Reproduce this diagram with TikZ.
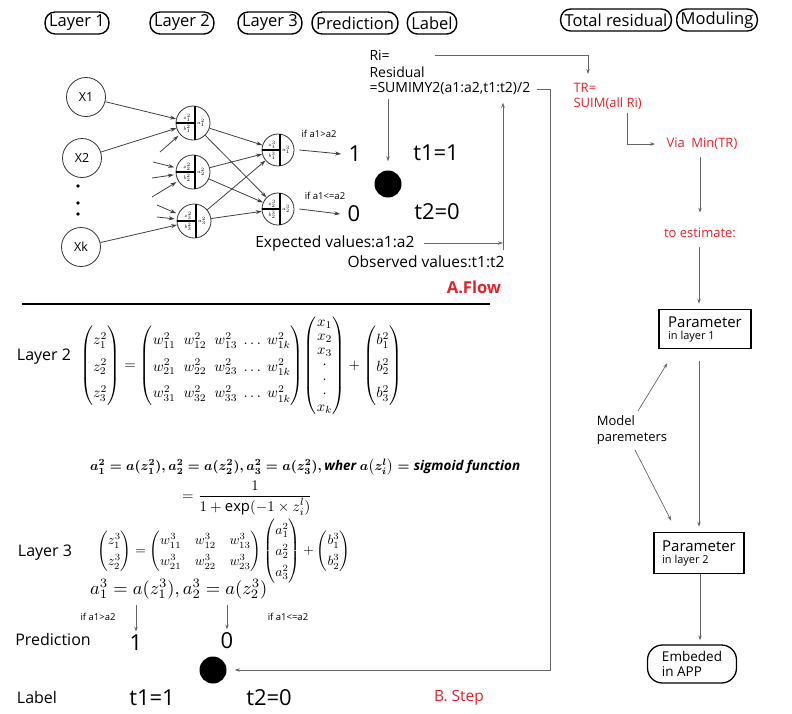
\documentclass[tikz,border=0pt]{standalone}
\usepackage{amsmath}
\usepackage{graphicx}
\usepackage{fontspec}
\setmainfont{Open Sans}
\usetikzlibrary{arrows.meta,positioning,calc}
\definecolor{flowred}{RGB}{226,34,44}

\begin{document}
\begin{tikzpicture}[
  x=1pt, y=-1pt,
  hdr/.style={draw, line width=1.4pt, rounded corners=10pt,
              font=\fontsize{16.5}{18}\selectfont,
              minimum height=22pt, inner xsep=4pt, inner ysep=1pt},
  inp/.style={circle, draw=black!80, line width=0.8pt, minimum size=39pt,
              inner sep=0pt, font=\fontsize{12.5}{14}\selectfont},
  neu/.style={circle, draw=black!80, line width=0.8pt, minimum size=34pt, inner sep=0pt},
  tiny/.style={font=\fontsize{5}{5}\selectfont, inner sep=0pt},
  arr/.style={-{Stealth[length=6pt,width=4pt]}, black!75, line width=0.8pt},
  farr/.style={-{Stealth[length=5pt,width=3.5pt]}, black!60, line width=0.7pt},
  big/.style={font=\fontsize{22}{24}\selectfont},
  txt/.style={font=\fontsize{15.5}{17}\selectfont},
  lbl/.style={font=\fontsize{16}{18}\selectfont},
  sml/.style={font=\fontsize{14}{16}\selectfont, align=left},
  cond/.style={font=\fontsize{9.5}{10}\selectfont},
  redt/.style={text=flowred, font=\fontsize{13}{14.5}\selectfont, align=left},
  blob/.style={circle, fill=black, minimum size=27pt, inner sep=0pt},
  parbox/.style={draw, line width=1.6pt, align=left, inner sep=3pt,
                 minimum width=92pt, minimum height=39pt},
  eqn/.style={anchor=west, inner sep=0pt},
]
\useasboundingbox (0,0) rectangle (792,713);

% Column headers
\node[hdr] (h1) at (77,23)  {Layer 1};
\node[hdr] (h2) at (182,23) {Layer 2};
\node[hdr] (h3) at (270,23) {Layer 3};
\node[hdr] (h4) at (355,23) {Prediction};
\node[hdr] (h5) at (432,23) {Label};
\node[hdr] (h6) at (616,20) {Total residual};
\node[hdr] (h7) at (717,20) {Moduling};

% Input layer
\node[inp] (x1) at (86,97)  {X1};
\node[inp] (x2) at (82,158) {X2};
\node[inp] (xk) at (81,247) {Xk};
\foreach \y in {186,203,214} \fill (78,\y) circle (1.8pt);

% Layer 2 and layer 3 neurons
\node[neu] (n1) at (193,123) {};
\node[neu] (n2) at (193,172) {};
\node[neu] (n3) at (194,221) {};
\node[neu, minimum size=32pt] (m1) at (278,150) {};
\node[neu, minimum size=32pt] (m2) at (278,209) {};
\foreach \n/\j/\l in {n1/1/2, n2/2/2, n3/3/2, m1/1/3, m2/2/3} {
  \draw[line width=1.1pt] ([xshift=2pt]\n.north) -- ([xshift=2pt]\n.south);
  \draw[line width=1.1pt] (\n.west) -- ([xshift=2pt]\n.center);
  \node[tiny] at ([shift={(-6pt,5pt)}]\n.center)  {$z^{\l}_{\j}$};
  \node[tiny] at ([shift={(-6pt,-6pt)}]\n.center) {$b^{\l}_{\j}$};
  \node[tiny] at ([shift={(8pt,0pt)}]\n.center)   {$a^{\l}_{\j}$};
}

% Network arrows
\draw[arr] (x1) -- (n1);
\draw[arr] (x2) -- (n1);
\draw[arr] (xk) -- (n3);
\coordinate (s1) at (160,152);
\coordinate (s2) at (153,162);
\coordinate (s3) at (152,178);
\coordinate (s4) at (152,197);
\coordinate (s5) at (157,205);
\coordinate (s6) at (157,217);
\foreach \s/\t in {s1/n1, s2/n2, s3/n2, s4/n2, s5/n3, s6/n3}
  \draw[arr, shorten >=2pt] (\s) -- (\t);
\foreach \a in {n1,n2,n3}
  \foreach \b in {m1,m2}
    \draw[arr] (\a) -- (\b);

% Prediction and label
\node[big] (o1) at (355,154) {1};
\node[big] (o0) at (354,214) {0};
\node[cond] at (319,134) {if a1>a2};
\node[cond] at (325,196) {if a1<=a2};
\draw[arr] ([xshift=5pt]m1.east) -- ([xshift=-4pt]o1.west);
\draw[arr] ([xshift=5pt]m2.east) -- ([xshift=-4pt]o0.west);
\node[blob] (dot1) at (388,184) {};
\node[big] (t1) at (436,153) {t1=1};
\node[big] (t2) at (437,212) {t2=0};

% Residual
\node[sml, anchor=west] (ri)  at (366,55) {Ri=};
\node[sml, anchor=west] (res) at (366,72) {Residual};
\node[sml, anchor=west] (sum) at (366,89) {=SUMIMY2(a1:a2,t1:t2)/2};
\draw[farr] (sum.south -| dot1) -- ([yshift=9pt]dot1.north);

\node[txt, anchor=east] (exp) at (418,243) {Expected values:a1:a2};
\node[txt, anchor=east] (obs) at (508,262) {Observed values:t1:t2};
\node[text=flowred, font=\fontsize{16.5}{18}\selectfont\bfseries] (fa) at (474,287) {A.Flow};
\coordinate (jb) at (503,250);
\draw[farr] ([xshift=6pt]exp.east) -- (exp.east -| jb);
\draw[farr] (jb) -- ($(sum.south -| jb)+(0,4)$);

% Total residual and moduling
\node[redt, anchor=north west] (tr) at (570,80) {TR=\\SUIM(all Ri)};
\draw[farr] ([xshift=42pt]ri.east) -| ($(tr.north west)+(18,-6)$);
\node[redt] (via) at (702,144) {Via\enspace Min(TR)};
\draw[farr] ($(tr.south west)+(57,0)$) |- ([xshift=-8pt]via.west);
\node[redt] (est) at (700,233) {to estimate:};
\draw[farr] ([yshift=-4pt]via.south -| est) -- ([yshift=12pt]est.north);

\node[parbox] (p1) at (705,329)
  {{\fontsize{15}{16}\selectfont Parameter}\\{\fontsize{11}{12}\selectfont in layer 1}};
\node[parbox, minimum width=90pt, minimum height=41pt] (p2) at (699,553)
  {{\fontsize{15}{16}\selectfont Parameter}\\{\fontsize{11}{12}\selectfont in layer 2}};
\node[draw, line width=1.3pt, rounded corners=15pt, minimum width=89pt,
      minimum height=38pt, align=left, font=\fontsize{13.5}{15}\selectfont] (emb) at (692,664)
  {Embeded\\in APP};
\draw[farr] ($(p2 |- est.south)+(0,6)$) -- ($(p2 |- p1.north)+(0,-5)$);
\draw[farr] ($(p2 |- p1.south)+(0,12)$) -- ($(p2.north)+(0,-5)$);
\draw[farr] ($(p2.south)+(1,0)$) -- ($(p2.south |- emb.north)+(1,-4)$);

\node[align=left, font=\fontsize{13}{16}\selectfont] (mp) at (632,430) {Model\\paremeters};
\draw[farr] ($(mp.north)+(6,-1)$) -- ($(p1.south west)+(9,14)$);
\draw[farr] ($(mp.south)+(3,2)$) -- ($(p2.north west)+(18,-11)$);

% Step part
\draw[line width=1.8pt] (22,304) -- (490,304);
\node[lbl] (l2) at (44,357) {Layer 2};
\node[eqn] (eq2) at (80,366) {\resizebox{322pt}{!}{$
  {\renewcommand{\arraystretch}{1.5}
  \begin{pmatrix} z_1^2\\ z_2^2\\ z_3^2 \end{pmatrix}}
  = {\renewcommand{\arraystretch}{1.5}
    \begin{pmatrix}
      w_{11}^2\ \ w_{12}^2\ \ w_{13}^2\ \ldots\ w_{1k}^2\\
      w_{21}^2\ \ w_{22}^2\ \ w_{23}^2\ \ldots\ w_{1k}^2\\
      w_{31}^2\ \ w_{32}^2\ \ w_{33}^2\ \ldots\ w_{1k}^2
    \end{pmatrix}}
  {\renewcommand{\arraystretch}{0.8}
  \begin{pmatrix} x_1\\ x_2\\ x_3\\ \cdot\\ \cdot\\ \cdot\\ x_k \end{pmatrix}}
  + {\renewcommand{\arraystretch}{1.5}
  \begin{pmatrix} b_1^2\\ b_2^2\\ b_3^2 \end{pmatrix}}$}};
\node[eqn] (sig) at (90,467) {\resizebox{430pt}{!}{\boldmath$
  a_1^2 = a(z_1^2), a_2^2 = a(z_2^2), a_3^2 = a(z_3^2), \mathit{wher}\
  a\bigl(z_i^l\bigr) = \mathit{sigmoid\ function}$}};
\node[eqn] (frc) at (182,498) {\resizebox{130pt}{!}{$
  = \dfrac{1}{1+\exp(-1\times z_i^l)}$}};
\node[lbl] (l3) at (45,553) {Layer 3};
\node[eqn] (eq3) at (97,551) {\resizebox{253pt}{!}{$
  {\renewcommand{\arraystretch}{1.3}
  \begin{pmatrix} z_1^3\\ z_2^3 \end{pmatrix}
  = \begin{pmatrix} w_{11}^3 & w_{12}^3 & w_{13}^3\\ w_{21}^3 & w_{22}^3 & w_{23}^3 \end{pmatrix}
  \begin{pmatrix} a_1^2\\ a_2^2\\ a_3^2 \end{pmatrix}
  + \begin{pmatrix} b_1^3\\ b_2^3 \end{pmatrix}}$}};
\node[eqn] (act) at (90,589) {\resizebox{177pt}{!}{$
  a_1^3 = a(z_1^3), a_2^3 = a(z_2^3)$}};

\node[lbl] (pr)  at (53,639)  {Prediction};
\node[big] (pr1) at (136,643) {1};
\node[big] (pr0) at (227,641) {0};
\draw[farr] ($(pr1 |- act.south)+(0,6)$) -- (pr1.north);
\draw[farr] ($(pr0 |- act.south)+(0,6)$) -- (pr0.north);
\node[cond] at (98,617)  {if a1>a2};
\node[cond] at (288,617) {if a1<=a2};

\node[blob] (dot2) at (213,670) {};
\coordinate (cB) at (550,670);
\draw[farr] ([xshift=3pt]sum.east) -| (cB) -- ([xshift=8pt]dot2.east);

\node[lbl] (lb)  at (37,697)  {Label};
\node[big] (lt1) at (152,698) {t1=1};
\node[big] (lt2) at (269,698) {t2=0};
\node[text=flowred, font=\fontsize{15.5}{17}\selectfont] (bs) at (459,698) {B. Step};

\end{tikzpicture}
\end{document}
